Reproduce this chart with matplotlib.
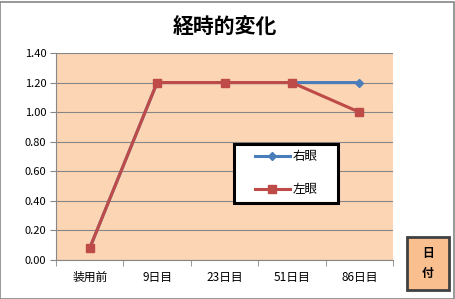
import numpy as np
import matplotlib.pyplot as plt
from matplotlib.patches import Rectangle

plt.rcParams['font.family'] = ['Noto Sans CJK JP', 'DejaVu Sans']

# Data
categories = ['装用前', '9日目', '23日目', '51日目', '86日目']
right_eye = [0.08, 1.20, 1.20, 1.20, 1.20]
left_eye = [0.08, 1.20, 1.20, 1.20, 1.00]
yticks = [0.0, 0.2, 0.4, 0.6, 0.8, 1.0, 1.2, 1.4]

W, H = 456, 299
fig = plt.figure(figsize=(W / 100, H / 100), dpi=100)
fig.patch.set_facecolor('white')
fig.add_artist(Rectangle((0.5 / W, 0.5 / H), 1 - 2 / W, 1 - 2 / H,
                         transform=fig.transFigure, fill=False,
                         edgecolor='#868686', linewidth=1.2))

# plot area in pixels
left, right, top, bottom = 56, 393, 53, 260
ax = fig.add_axes([left / W, 1 - bottom / H, (right - left) / W, (bottom - top) / H])
ax.set_facecolor('#fcd5b4')

x = np.arange(len(categories))
ax.plot(x, right_eye, color='#4a7ebb', linewidth=2.2, marker='D', markersize=4.5,
        label='右眼', zorder=3)
ax.plot(x, left_eye, color='#be4b48', linewidth=2.2, marker='s', markersize=5.5,
        label='左眼', zorder=4)

ax.set_xlim(-0.5, len(categories) - 0.5)
ax.set_ylim(0, 1.4)
ax.set_yticks(yticks)
ax.set_yticklabels(['%.2f' % v for v in yticks], fontsize=8)
ax.yaxis.grid(True, color='#868686', linewidth=0.8)
ax.set_axisbelow(True)

ax.set_xticks(x)
ax.set_xticklabels(categories, fontsize=8.5)
ax.set_xticks(np.arange(len(categories) + 1) - 0.5, minor=True)
ax.tick_params(axis='x', which='major', length=0, pad=8)
ax.tick_params(axis='x', which='minor', length=4, color='#868686')
ax.tick_params(axis='y', length=4, color='#868686', pad=3)

for s in ['top', 'right']:
    ax.spines[s].set_visible(False)
for s in ['left', 'bottom']:
    ax.spines[s].set_color('#868686')

fig.text(0.5 * (left + right) / W, 1 - 27 / H, '経時的変化', ha='center', va='center',
         fontsize=15, fontweight='bold')

# legend: white box with black border, entries placed inside
fig.add_artist(Rectangle((234 / W, 1 - 203 / H), 104 / W, 59 / H,
                         transform=fig.transFigure, facecolor='white',
                         edgecolor='black', linewidth=2.2, zorder=5))
leg = fig.legend(loc='center', bbox_to_anchor=(286 / W, 1 - 173 / H),
                 fontsize=9, frameon=False, labelspacing=1.6,
                 handlelength=2.8, handletextpad=0.2, borderpad=0)
leg.set_zorder(6)

# axis title box on the right
fig.add_artist(Rectangle((407 / W, 1 - 290 / H), 42 / W, 53 / H,
                         transform=fig.transFigure, facecolor='#f9bf8f',
                         edgecolor='#404040', linewidth=2.0))
fig.text(428 / W, 1 - 263.5 / H, '日\n付', ha='center', va='center',
         fontsize=8.5, fontweight='bold', linespacing=1.6)

fig.savefig('out.png', dpi=100)
